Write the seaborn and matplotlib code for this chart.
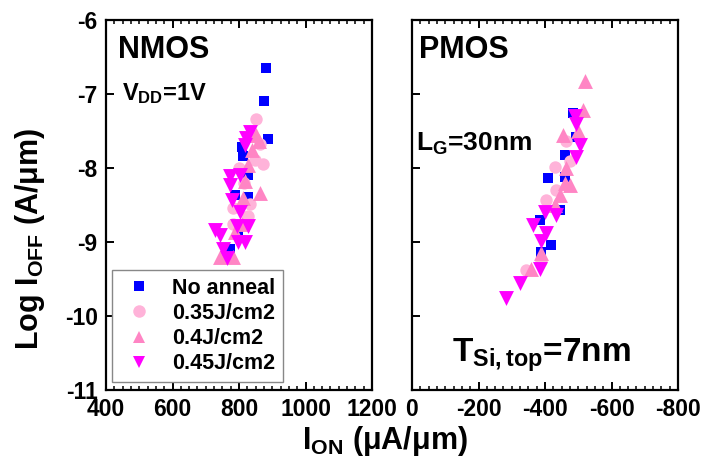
import matplotlib
matplotlib.use("Agg")
import matplotlib.pyplot as plt
from matplotlib.ticker import MultipleLocator
from matplotlib.lines import Line2D
import pandas as pd
import seaborn as sns

# ---- data: I_ON (uA/um) vs log I_OFF (A/um) ----
nmos_none_ion = [881, 875, 888, 813, 808, 828, 788, 828, 798, 773]
nmos_none_ioff = [-6.65, -7.09, -7.61, -7.84, -7.71, -8.09, -8.36, -8.39, -8.87, -9.10]
nmos_035_ion = [851, 863, 871, 848, 783, 833, 828, 783, 815, 800, 840]
nmos_035_ioff = [-7.34, -7.67, -7.94, -7.89, -8.54, -8.48, -8.65, -8.75, -8.20, -8.00, -7.55]
nmos_040_ion = [861, 828, 818, 863, 813, 808, 788, 743, 783, 838, 850]
nmos_040_ioff = [-7.64, -7.96, -8.18, -8.34, -8.41, -8.75, -8.86, -9.20, -9.20, -7.76, -7.55]
nmos_045_ion = [833, 818, 773, 803, 773, 778, 803, 828, 728, 793, 743, 818, 798, 753, 763, 820]
nmos_045_ioff = [-7.51, -7.69, -8.11, -8.09, -8.23, -8.43, -8.59, -8.79, -8.84, -8.79, -8.91,
                 -9.00, -9.00, -9.09, -9.22, -7.60]

pmos_none_ion = [-484, -494, -459, -409, -459, -384, -444, -419, -389]
pmos_none_ioff = [-7.26, -7.58, -7.82, -8.14, -8.12, -8.70, -8.57, -9.04, -9.13]
pmos_035_ion = [-429, -404, -344, -464, -474, -389, -434]
pmos_035_ioff = [-7.98, -8.43, -9.38, -7.64, -7.90, -9.25, -8.30]
pmos_040_ion = [-519, -514, -454, -464, -474, -444, -389, -359, -499, -459, -429]
pmos_040_ioff = [-6.83, -7.22, -7.55, -8.00, -8.23, -8.36, -9.15, -9.36, -7.50, -8.20, -8.50]
pmos_045_ion = [-494, -504, -494, -399, -434, -364, -404, -389, -384, -324, -282, -489]
pmos_045_ioff = [-7.40, -7.69, -7.85, -8.59, -8.63, -8.77, -8.88, -8.99, -9.36, -9.56, -9.76, -7.30]

conditions = ["No anneal", "0.35J/cm2", "0.4J/cm2", "0.45J/cm2"]
nmos_x_ticks = [400, 600, 800, 1000, 1200]
pmos_x_ticks = [0, -200, -400, -600, -800]
y_ticks = [-11, -10, -9, -8, -7, -6]

colors = {"No anneal": "#0000FF", "0.35J/cm2": "#FFB3D9",
          "0.4J/cm2": "#FF85C4", "0.45J/cm2": "#FF00FF"}
markers = {"No anneal": "s", "0.35J/cm2": "o", "0.4J/cm2": "^", "0.45J/cm2": "v"}
sizes = {"No anneal": 58, "0.35J/cm2": 80, "0.4J/cm2": 115, "0.45J/cm2": 115}


def frame(ion_lists, ioff_lists):
    rows = []
    for cond, xs, ys in zip(conditions, ion_lists, ioff_lists):
        rows += [(cond, x, y) for x, y in zip(xs, ys)]
    return pd.DataFrame(rows, columns=["cond", "ion", "ioff"])


nmos = frame([nmos_none_ion, nmos_035_ion, nmos_040_ion, nmos_045_ion],
             [nmos_none_ioff, nmos_035_ioff, nmos_040_ioff, nmos_045_ioff])
pmos = frame([pmos_none_ion, pmos_035_ion, pmos_040_ion, pmos_045_ion],
             [pmos_none_ioff, pmos_035_ioff, pmos_040_ioff, pmos_045_ioff])

sns.set_style("ticks")
plt.rcParams["font.family"] = ["Liberation Sans", "DejaVu Sans"]
plt.rcParams["font.weight"] = "bold"
plt.rcParams["text.color"] = "black"
plt.rcParams["axes.labelcolor"] = "black"
plt.rcParams["xtick.color"] = "black"
plt.rcParams["ytick.color"] = "black"
plt.rcParams["mathtext.fontset"] = "custom"
plt.rcParams["mathtext.rm"] = "Liberation Sans:bold"
plt.rcParams["mathtext.it"] = "Liberation Sans:bold"
plt.rcParams["mathtext.bf"] = "Liberation Sans:bold"

fig = plt.figure(figsize=(7.10, 4.68), dpi=100)
ax1 = fig.add_axes([106 / 710, 1 - 390 / 468, 266 / 710, 370 / 468])
ax2 = fig.add_axes([412 / 710, 1 - 390 / 468, 266 / 710, 370 / 468])

for ax, df in ((ax1, nmos), (ax2, pmos)):
    for cond in conditions:
        sub = df[df["cond"] == cond]
        sns.scatterplot(data=sub, x="ion", y="ioff", ax=ax, color=colors[cond],
                        marker=markers[cond], s=sizes[cond], linewidth=0,
                        legend=False, zorder=3)
    ax.set_ylim(-11, -6)
    ax.set_yticks(y_ticks)
    ax.set_xlabel("")
    ax.set_ylabel("")
    for sp in ax.spines.values():
        sp.set_visible(True)
        sp.set_linewidth(1.6)
        sp.set_color("black")
    ax.xaxis.set_minor_locator(MultipleLocator(25))
    ax.tick_params(axis="x", which="both", direction="in", top=True, bottom=True,
                   labelsize=16.5, pad=6, colors="black")
    ax.tick_params(axis="x", which="major", length=6, width=1.4)
    ax.tick_params(axis="x", which="minor", length=3, width=1.1)
    ax.tick_params(axis="y", which="both", direction="in", left=True, right=False,
                   labelsize=16.5, length=6, width=1.4, pad=6, colors="black")

ax1.set_xlim(400, 1200)
ax1.set_xticks(nmos_x_ticks)
ax1.set_xticklabels([str(t) for t in nmos_x_ticks], fontweight="bold")
ax1.set_yticklabels([str(t) for t in y_ticks], fontweight="bold")

ax2.set_xlim(0, -800)
ax2.set_xticks(pmos_x_ticks)
ax2.set_xticklabels([str(t) for t in pmos_x_ticks], fontweight="bold")
ax2.tick_params(axis="y", labelleft=False)

fig.text(30 / 710, 0.49, r"Log I$_{\rm OFF}$ (A/μm)", fontsize=22, fontweight="bold",
         rotation=90, ha="center", va="center")
fig.text(385 / 710, 1 - 441 / 468, r"I$_{\rm ON}$ (μA/μm)", fontsize=22, fontweight="bold",
         ha="center", va="center")

ax1.text(0.045, 0.92, "NMOS", transform=ax1.transAxes, fontsize=22, fontweight="bold",
         va="center", ha="left")
ax1.text(0.06, 0.80, r"V$_{\rm DD}$=1V", transform=ax1.transAxes, fontsize=17,
         fontweight="bold", va="center", ha="left")
ax2.text(0.025, 0.92, "PMOS", transform=ax2.transAxes, fontsize=22, fontweight="bold",
         va="center", ha="left")
ax2.text(0.015, 0.665, r"L$_{\rm G}$=30nm", transform=ax2.transAxes, fontsize=19,
         fontweight="bold", va="center", ha="left")
ax2.text(0.15, 0.095, r"T$_{\rm Si,top}$=7nm", transform=ax2.transAxes, fontsize=24,
         fontweight="bold", va="center", ha="left")

handles = [Line2D([], [], linestyle="none", marker=markers[c], color=colors[c],
                  markersize=9 if c != "No anneal" else 7.5, markeredgewidth=0)
           for c in conditions]
leg = ax1.legend(handles, conditions, loc="lower left", bbox_to_anchor=(0.0226, 0.0216),
                 frameon=True, fancybox=False, edgecolor="#888888", framealpha=1,
                 prop={"weight": "bold", "size": 15.5}, handletextpad=0.65,
                 borderpad=0.35, labelspacing=0.2, handlelength=1.8,
                 borderaxespad=0)
leg.get_frame().set_linewidth(1.0)

fig.savefig("out.png", dpi=100)
